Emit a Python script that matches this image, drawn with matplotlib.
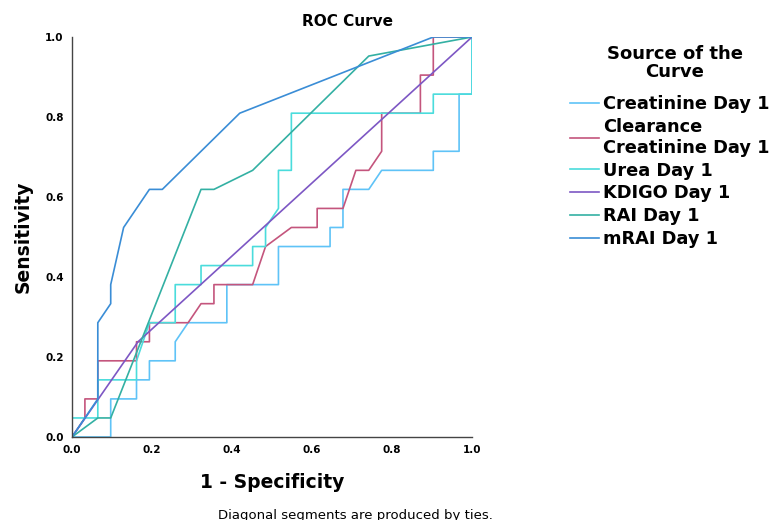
import numpy as np
import matplotlib.pyplot as plt

# Antal negativa / positiva fall (trappstegen ligger på k/31 och j/21)
N_NEG = 31
N_POS = 21

# Punkter (k, j)
creat_k = [0, 3, 3, 5, 5, 6, 6, 8, 8, 9, 12, 12, 16, 16, 20, 20, 21, 21, 23, 24, 28, 28, 30, 30, 31, 31]
creat_j = [0, 0, 2, 2, 3, 3, 4, 4, 5, 6, 6, 8, 8, 10, 10, 11, 11, 13, 13, 14, 14, 15, 15, 18, 18, 21]

clear_k = [0, 1, 1, 2, 2, 5, 5, 6, 6, 9, 10, 11, 11, 14, 15, 17, 19, 19, 21, 22, 23, 24, 24, 27, 27, 28, 28, 31]
clear_j = [0, 1, 2, 2, 4, 4, 5, 5, 6, 6, 7, 7, 8, 8, 10, 11, 11, 12, 12, 14, 14, 15, 17, 17, 19, 19, 21, 21]

urea_k = [0, 0, 2, 2, 5, 5, 6, 8, 8, 10, 10, 14, 14, 15, 15, 16, 16, 17, 17, 28, 28, 31, 31]
urea_j = [0, 1, 1, 3, 3, 4, 6, 6, 8, 8, 9, 9, 10, 10, 11, 12, 14, 14, 17, 17, 18, 18, 21]

kdigo_x = [0.0, 0.165, 1.0]
kdigo_y = [0.0, 0.238, 1.0]

rai_k = [0, 2, 3, 10, 11, 14, 23, 31]
rai_j = [0, 1, 1, 13, 13, 14, 20, 21]

mrai_k = [0, 2, 2, 3, 3, 4, 6, 7, 13, 28, 31]
mrai_j = [0, 2, 6, 7, 8, 11, 13, 13, 17, 21, 21]

LABELS = ["Creatinine Day 1", "Clearance\nCreatinine Day 1", "Urea Day 1",
          "KDIGO Day 1", "RAI Day 1", "mRAI Day 1"]
COLORS = ["#5fc3f7", "#c4557d", "#4adcdc", "#7d57c4", "#33b0a3", "#3a8dd6"]

curves = [
    (np.array(creat_k) / N_NEG, np.array(creat_j) / N_POS),
    (np.array(clear_k) / N_NEG, np.array(clear_j) / N_POS),
    (np.array(urea_k) / N_NEG, np.array(urea_j) / N_POS),
    (np.array(kdigo_x), np.array(kdigo_y)),
    (np.array(rai_k) / N_NEG, np.array(rai_j) / N_POS),
    (np.array(mrai_k) / N_NEG, np.array(mrai_j) / N_POS),
]

fig = plt.figure(figsize=(7.72, 5.2), dpi=100)
ax = fig.add_axes([72 / 772, 1 - 437 / 520, 400 / 772, 400 / 520])

for (x, y), lab, col in zip(curves, LABELS, COLORS):
    ax.plot(x, y, color=col, lw=1.2, label=lab)

ax.set_xlim(0, 1)
ax.set_ylim(0, 1)
ticks = [0.0, 0.2, 0.4, 0.6, 0.8, 1.0]
ax.set_xticks(ticks)
ax.set_yticks(ticks)
ax.set_xticklabels([f"{t:.1f}" for t in ticks], fontsize=7.5, fontweight="bold")
ax.set_yticklabels([f"{t:.1f}" for t in ticks], fontsize=7.5, fontweight="bold")
ax.tick_params(length=0, pad=6)
for s in ["top", "right"]:
    ax.spines[s].set_visible(False)
for s in ["left", "bottom"]:
    ax.spines[s].set_color("#444444")
    ax.spines[s].set_linewidth(1.0)

ax.set_xlabel("1 - Specificity", fontsize=13.5, fontweight="bold", labelpad=13)
ax.set_ylabel("Sensitivity", fontsize=13.5, fontweight="bold", labelpad=9)

fig.text(347 / 772, 1 - 22 / 520, "ROC Curve", ha="center", va="center",
         fontsize=11, fontweight="bold")
fig.text(355 / 772, 1 - 515 / 520, "Diagonal segments are produced by ties.",
         ha="center", va="center", fontsize=9.5)

# Legendtitel som egen text för att styra avståndet
fig.text(675 / 772, 1 - 63 / 520, "Source of the\nCurve", ha="center",
         va="center", fontsize=13, fontweight="bold", linespacing=1.05)
leg = fig.legend(loc="upper left", bbox_to_anchor=(563 / 772, 1 - 88 / 520),
                 frameon=False, prop={"size": 12.8, "weight": "bold"},
                 handlelength=1.6, handletextpad=0.25, labelspacing=0.27,
                 borderaxespad=0)

fig.savefig("out.png", dpi=100)
